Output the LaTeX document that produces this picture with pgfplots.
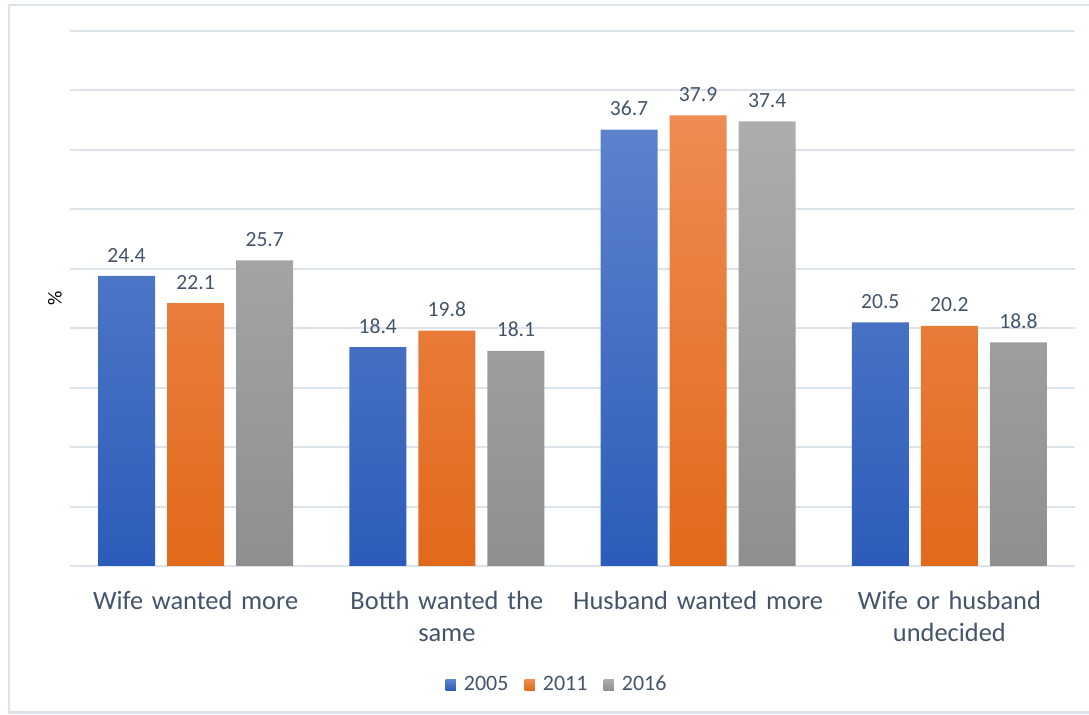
\documentclass[border=0pt]{standalone}
\usepackage{pgfplots}
\pgfplotsset{compat=1.18}
\usepackage{fontspec}
\setmainfont{Carlito}

\definecolor{txt}{HTML}{44546A}
\definecolor{gridc}{HTML}{DDE3EA}
\definecolor{blueT}{HTML}{5C82CC}
\definecolor{blueB}{HTML}{2C5CBA}
\definecolor{oranT}{HTML}{EF8B53}
\definecolor{oranB}{HTML}{E1691A}
\definecolor{grayT}{HTML}{ADADAD}
\definecolor{grayB}{HTML}{8F8F8F}

\pgfplotstableread{
x  y2005 y2011 y2016
0  24.4  22.1  25.7
1  18.4  19.8  18.1
2  36.7  37.9  37.4
3  20.5  20.2  18.8
}\survey

\begin{document}
\begin{tikzpicture}
  \useasboundingbox (0pt,0pt) rectangle (544.5pt,357.5pt);
  % chart frame
  \draw[gridc, line width=1.2pt] (544.5pt,1.2pt) -- (4.5pt,1.2pt) -- (4.5pt,355pt) -- (544.5pt,355pt);
  \begin{axis}[
    at={(35pt,74.5pt)}, anchor=south west,
    scale only axis,
    width=502.5pt, height=267.5pt,
    xmin=-0.5, xmax=3.5,
    ymin=0, ymax=45,
    ytick={0,5,...,45},
    yticklabels={},
    ymajorgrids,
    grid style={gridc, line width=1pt},
    major tick length=0pt,
    axis line style={draw=none},
    axis x line*=bottom,
    x axis line style={draw=gridc, line width=1pt},
    xtick={0,1,2,3},
    xticklabels={Wife wanted more, {Botth wanted the\\same}, Husband wanted more, {Wife or husband\\undecided}},
    xticklabel style={font=\fontsize{13.2}{16}\selectfont, text=txt, align=center, text width=125pt, yshift=-9pt},
    ylabel={\%},
    ylabel style={font=\fontsize{12}{14}\selectfont, text=txt},
    every axis y label/.style={at={(axis description cs:-0.015,0.5)}, rotate=90, anchor=center},
    ybar,
    bar width=0.227,
    nodes near coords,
    nodes near coords style={font=\fontsize{10.8}{13}\selectfont, text=txt, yshift=3.3pt},
    point meta=explicit symbolic,
    legend columns=3,
    legend style={draw=none, fill=none, at={(axis description cs:0.4856,-0.2224)}, anchor=center,
      font=\fontsize{11}{13}\selectfont, text=txt,
      /tikz/every odd column/.append style={column sep=2pt},
      /tikz/every even column/.append style={column sep=6pt}},
    legend image code/.code={\fill[#1] (0pt,-2.6pt) rectangle (5.2pt,2.6pt);},
  ]
    \addplot[draw=none, top color=blueT, bottom color=blueB, bar shift=-0.275]
      table[x=x, y=y2005, meta=y2005] {\survey};
    \addplot[draw=none, top color=oranT, bottom color=oranB, bar shift=0]
      table[x=x, y=y2011, meta=y2011] {\survey};
    \addplot[draw=none, top color=grayT, bottom color=grayB, bar shift=0.275]
      table[x=x, y=y2016, meta=y2016] {\survey};
    \legend{2005, 2011, 2016}
  \end{axis}
\end{tikzpicture}
\end{document}
